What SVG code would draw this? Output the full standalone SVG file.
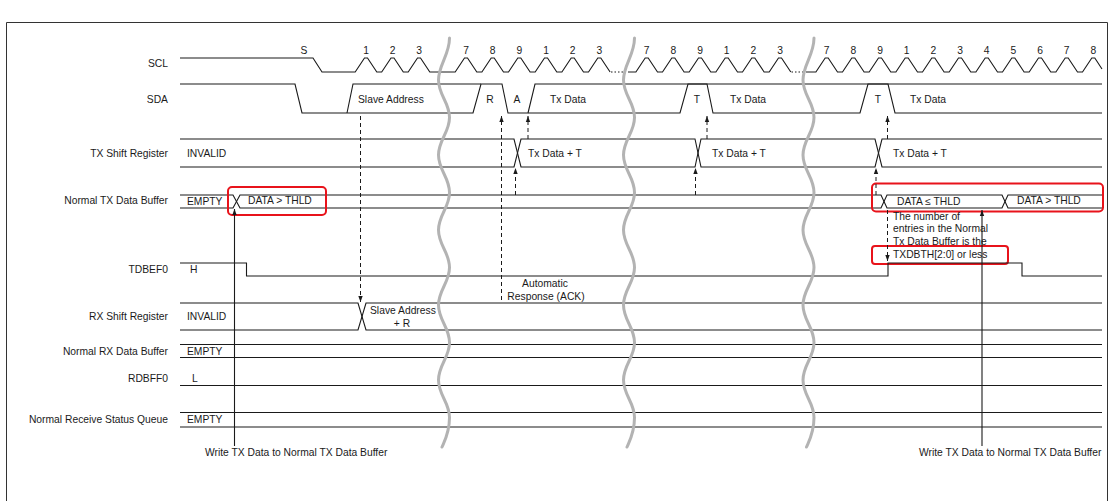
<svg xmlns="http://www.w3.org/2000/svg" width="1115" height="501" viewBox="0 0 1115 501">
<style>
.t{font-family:"Liberation Sans",Arial,sans-serif;font-size:10.3px;fill:#1a1a1a}
.e{text-anchor:end}
.m{text-anchor:middle}
.w{fill:none;stroke:#1a1a1a;stroke-width:1.1}
.d{fill:none;stroke:#1a1a1a;stroke-width:1;stroke-dasharray:4 3}
.s{fill:none;stroke:#1a1a1a;stroke-width:1.1}
.dot{fill:none;stroke:#1a1a1a;stroke-width:1.1;stroke-dasharray:1.5 2}
.brk{fill:none;stroke:#b3b3b3;stroke-width:3;stroke-linecap:round}
.red{fill:none;stroke:#e8131b;stroke-width:2}
</style>
<defs>
<marker id="ah" markerUnits="userSpaceOnUse" markerWidth="6" markerHeight="6" refX="6" refY="3" orient="auto">
<path d="M0,0.8 L6,3 L0,5.2 z" fill="#1a1a1a"/>
</marker>
</defs>
<rect width="1115" height="501" fill="#fff"/>
<path d="M6.5,501 V22.5 H1107.5 V501" fill="none" stroke="#333" stroke-width="1"/>

<g id="labels">
<text class="t e" x="168" y="66.7">SCL</text>
<text class="t e" x="168" y="102.7">SDA</text>
<text class="t e" x="168" y="156.7">TX Shift Register</text>
<text class="t e" x="168" y="203.7">Normal TX Data Buffer</text>
<text class="t e" x="168" y="272.5">TDBEF0</text>
<text class="t e" x="168" y="319.7">RX Shift Register</text>
<text class="t e" x="168" y="354.7">Normal RX Data Buffer</text>
<text class="t e" x="168" y="381.7">RDBFF0</text>
<text class="t e" x="168" y="422.7">Normal Receive Status Queue</text>
</g>

<g id="scl">
<path class="w" d="M180,58 H313 L322,72 H355.2 L364.5,58 H367.5 L376.8,72 H381.7 L391,58 H394 L403.3,72 H408.2 L417.5,58 H420.5 L429.8,72 H455.2 L464.5,58 H467.5 L476.8,72 H481.9 L491.2,58 H494.2 L503.5,72 H508.5 L517.8,58 H520.8 L530.1,72 H535.2 L544.5,58 H547.5 L556.8,72 H561.9 L571.2,58 H574.2 L583.5,72 H588.5 L597.8,58 H600.8 L610.1,72"/>
<path class="dot" d="M611,72 H626"/>
<path class="w" d="M628,72 H635.9 L645.2,58 H648.2 L657.5,72 H662.5 L671.8,58 H674.8 L684.1,72 H689.2 L698.5,58 H701.5 L710.8,72 H715.9 L725.2,58 H728.2 L737.5,72 H742.5 L751.8,58 H754.8 L764.1,72 H769.2 L778.5,58 H781.5 L790.8,72"/>
<path class="dot" d="M791.5,72 H803"/>
<path class="w" d="M806,72 H815.9 L825.2,58 H828.2 L837.5,72 H842.5 L851.8,58 H854.8 L864.1,72 H869.2 L878.5,58 H881.5 L890.8,72 H895.9 L905.2,58 H908.2 L917.5,72 H922.5 L931.8,58 H934.8 L944.1,72 H949.2 L958.5,58 H961.5 L970.8,72 H975.9 L985.2,58 H988.2 L997.5,72 H1002.5 L1011.8,58 H1014.8 L1024.1,72 H1029.2 L1038.5,58 H1041.5 L1050.8,72 H1055.9 L1065.2,58 H1068.2 L1077.5,72 H1082.5 L1091.8,58 H1094.8 L1102,69"/>
<g class="t m">
<text x="304" y="53.5">S</text>
<text x="366" y="53.5">1</text><text x="392.5" y="53.5">2</text><text x="419" y="53.5">3</text>
<text x="466" y="53.5">7</text><text x="492.7" y="53.5">8</text><text x="519.3" y="53.5">9</text><text x="546" y="53.5">1</text><text x="572.7" y="53.5">2</text><text x="599.3" y="53.5">3</text>
<text x="646.7" y="53.5">7</text><text x="673.3" y="53.5">8</text><text x="700" y="53.5">9</text><text x="726.7" y="53.5">1</text><text x="753.3" y="53.5">2</text><text x="780" y="53.5">3</text>
<text x="826.7" y="53.5">7</text><text x="853.3" y="53.5">8</text><text x="880" y="53.5">9</text><text x="906.7" y="53.5">1</text><text x="933.3" y="53.5">2</text><text x="960" y="53.5">3</text><text x="986.7" y="53.5">4</text><text x="1013.3" y="53.5">5</text><text x="1040" y="53.5">6</text><text x="1066.7" y="53.5">7</text><text x="1093.3" y="53.5">8</text>
</g>
</g>

<g id="sda">
<path class="w" d="M180,84 H295 L302,113 H473 L481,84 H502 L508,113 H680 L688,84 H707 L713,113 H860 L868,84 H888 L895,113 H1102"/>
<path class="w" d="M347,113 L353,84 H481"/>
<path class="w" d="M528,113 L535,84 H1102"/>
<text class="t" x="358" y="102.7">Slave Address</text>
<text class="t m" x="490" y="102.7">R</text>
<text class="t m" x="517" y="102.7">A</text>
<text class="t" x="550" y="102.7">Tx Data</text>
<text class="t m" x="697" y="102.7">T</text>
<text class="t" x="730" y="102.7">Tx Data</text>
<text class="t m" x="878" y="102.7">T</text>
<text class="t" x="910" y="102.7">Tx Data</text>
</g>

<g id="tx-shift-register">
<path class="w" d="M180,139 H514 L521,167 H695 L701,139 H875 L882,167 H1102"/>
<path class="w" d="M180,167 H514 L521,139 H695 L701,167 H875 L882,139 H1102"/>
<text class="t" x="187" y="156.7">INVALID</text>
<text class="t" x="528" y="156.7">Tx Data + T</text>
<text class="t" x="712" y="156.7">Tx Data + T</text>
<text class="t" x="893" y="156.7">Tx Data + T</text>
</g>

<g id="normal-tx-data-buffer">
<path class="w" d="M180,195 H233 L240,208 H881 L887,195 H1002 L1008,208 H1102"/>
<path class="w" d="M180,208 H233 L240,195 H881 L887,208 H1002 L1008,195 H1102"/>
<text class="t" x="187" y="204.5">EMPTY</text>
<text class="t" x="248" y="204">DATA &gt; THLD</text>
<text class="t" x="897" y="205">DATA ≤ THLD</text>
<text class="t" x="1017" y="203.5">DATA &gt; THLD</text>
<rect class="red" x="228" y="187" width="98" height="28" rx="4"/>
<rect class="red" x="872" y="183.5" width="231" height="28" rx="4"/>
</g>

<g id="threshold-note">
<text class="t" x="893" y="219.5">The number of</text>
<text class="t" x="893" y="232">entries in the Normal</text>
<text class="t" x="893" y="245">Tx Data Buffer is the</text>
<text class="t" x="893" y="258">TXDBTH[2:0] or less</text>
<rect class="red" x="872" y="246" width="136" height="18" rx="3"/>
</g>

<g id="tdbef0">
<path class="w" d="M180,263 H246.5 V276 H888 V263 H1022 V276 H1102" stroke="#333"/>
<text class="t" x="190" y="272.5">H</text>
</g>

<g id="ack-note">
<text class="t m" x="545" y="286.5">Automatic</text>
<text class="t m" x="546" y="299.5">Response (ACK)</text>
</g>

<g id="rx-shift-register">
<path class="w" d="M180,303 H358 L366,330 H1102"/>
<path class="w" d="M180,330 H358 L366,303 H1102"/>
<text class="t" x="187" y="319.7">INVALID</text>
<text class="t" x="370" y="313.5">Slave Address</text>
<text class="t m" x="402" y="326.5">+ R</text>
</g>

<g id="normal-rx-data-buffer">
<path class="w" d="M180,344.5 H1102 M180,357.5 H1102"/>
<text class="t" x="187" y="354.7">EMPTY</text>
</g>

<g id="rdbff0">
<path class="w" d="M180,385.5 H1102"/>
<text class="t" x="192" y="381.7">L</text>
</g>

<g id="normal-receive-status-queue">
<path class="w" d="M180,412.5 H1102 M180,427 H1102"/>
<text class="t" x="187" y="422.7">EMPTY</text>
</g>

<g id="connectors">
<path class="d" d="M360.5,116 V302" marker-end="url(#ah)"/>
<path class="d" d="M501.5,300 V116" marker-end="url(#ah)"/>
<path class="d" d="M528,139 V116" marker-end="url(#ah)"/>
<path class="d" d="M515.5,195 V168" marker-end="url(#ah)"/>
<path class="d" d="M695.5,195 V168" marker-end="url(#ah)"/>
<path class="d" d="M707,139 V116" marker-end="url(#ah)"/>
<path class="d" d="M876,195 V168" marker-end="url(#ah)"/>
<path class="d" d="M887.5,139 V116" marker-end="url(#ah)"/>
<path class="d" d="M887.5,210 V261" marker-end="url(#ah)"/>
<path class="s" d="M234.5,446 V209" marker-end="url(#ah)"/>
<path class="s" d="M982,446 V210" marker-end="url(#ah)"/>
</g>

<g id="write-labels">
<text class="t" x="205" y="455.5">Write TX Data to Normal TX Data Buffer</text>
<text class="t" x="919" y="455.5">Write TX Data to Normal TX Data Buffer</text>
</g>

<g id="breaks">
<path class="brk" d="M449.5,38 C449.5,55 438.5,65 438.5,80 S449.5,102.5 449.5,117.5 S438.5,140 438.5,155 S449.5,177.5 449.5,192.5 S438.5,215 438.5,230 S449.5,252.5 449.5,267.5 S438.5,290 438.5,305 S449.5,327.5 449.5,342.5 S438.5,365 438.5,380 S449.5,402.5 449.5,417.5 S445,440 442,447"/>
<path class="brk" d="M634.5,38 C634.5,55 623.5,65 623.5,80 S634.5,102.5 634.5,117.5 S623.5,140 623.5,155 S634.5,177.5 634.5,192.5 S623.5,215 623.5,230 S634.5,252.5 634.5,267.5 S623.5,290 623.5,305 S634.5,327.5 634.5,342.5 S623.5,365 623.5,380 S634.5,402.5 634.5,417.5 S630,440 627,447"/>
<path class="brk" d="M814,38 C814,55 803,65 803,80 S814,102.5 814,117.5 S803,140 803,155 S814,177.5 814,192.5 S803,215 803,230 S814,252.5 814,267.5 S803,290 803,305 S814,327.5 814,342.5 S803,365 803,380 S814,402.5 814,417.5 S809.5,440 806.5,447"/>
</g>
</svg>
